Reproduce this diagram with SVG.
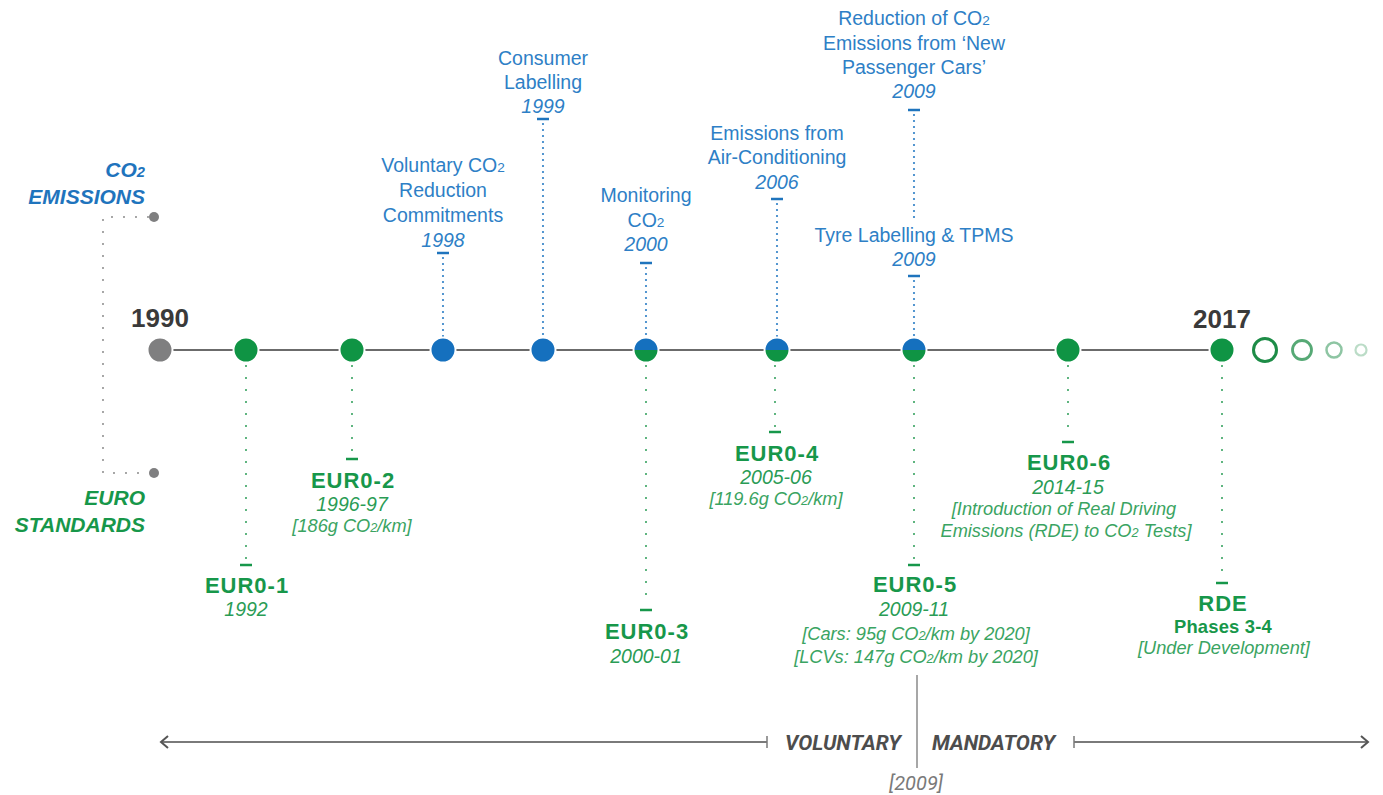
<svg xmlns="http://www.w3.org/2000/svg" width="1383" height="795" viewBox="0 0 1383 795">
<style>
.bt{font-family:"Liberation Sans",Arial,sans-serif;font-size:19.5px;fill:#2e7fc6;text-anchor:middle}
.bi{font-style:italic}
.gh{font-family:"Liberation Sans",Arial,sans-serif;font-size:22px;font-weight:700;letter-spacing:1px;fill:#17974a;text-anchor:middle}
.gi{font-family:"Liberation Sans",Arial,sans-serif;font-size:19.5px;font-style:italic;fill:#2a9c55;text-anchor:middle}
.gs{font-family:"Liberation Sans",Arial,sans-serif;font-size:18.2px;font-style:italic;fill:#3aa462;text-anchor:middle}
.yr{font-family:"Liberation Sans",Arial,sans-serif;font-size:26px;font-weight:700;fill:#3a3a3a;text-anchor:middle}
.leg{font-family:"Liberation Sans",Arial,sans-serif;font-size:21px;font-weight:700;font-style:italic;text-anchor:end}
.bd{stroke:#2e7fc6;stroke-width:2.2;stroke-dasharray:0 6;stroke-linecap:round;fill:none}
.gd{stroke:#2a9c55;stroke-width:2;stroke-dasharray:0 12;stroke-linecap:round;fill:none}
.bk{stroke:#1f74bd;stroke-width:2.5}
.gk{stroke:#17974a;stroke-width:2.5}
.ax{font-family:Roboto,"Liberation Sans",sans-serif;font-size:21px;font-weight:700;font-style:italic;fill:#4d4d4d}
.sub{font-size:0.7em}
</style>

<g id="legend">
  <text class="leg" x="145" y="177" fill="#1f74bd">CO<tspan class="sub">2</tspan></text>
  <text class="leg" x="145" y="204" fill="#1f74bd">EMISSIONS</text>
  <path d="M148 217 H103 V473 H148" stroke="#8a8a8a" stroke-width="2" stroke-dasharray="0 12" stroke-linecap="round" fill="none"/>
  <circle cx="154" cy="217" r="5" fill="#7f7f80"/>
  <circle cx="154" cy="473" r="5" fill="#7f7f80"/>
  <text class="leg" x="145" y="505" fill="#17974a">EURO</text>
  <text class="leg" x="145" y="532" fill="#17974a">STANDARDS</text>
</g>

<g id="connectors">
  <line x1="160" y1="350" x2="1222" y2="350" stroke="#6b6b6b" stroke-width="2.2"/>
  <line class="bd" x1="443" y1="258" x2="443" y2="337"/>
  <line class="bk" x1="437" y1="253" x2="449" y2="253"/>
  <line class="bd" x1="543" y1="124" x2="543" y2="337"/>
  <line class="bk" x1="537" y1="119" x2="549" y2="119"/>
  <line class="bd" x1="646" y1="268" x2="646" y2="337"/>
  <line class="bk" x1="640" y1="263" x2="652" y2="263"/>
  <line class="bd" x1="777" y1="204" x2="777" y2="337"/>
  <line class="bk" x1="771" y1="199" x2="783" y2="199"/>
  <line class="bd" x1="914" y1="115" x2="914" y2="218"/>
  <line class="bk" x1="908" y1="110" x2="920" y2="110"/>
  <line class="bd" x1="914" y1="281" x2="914" y2="337"/>
  <line class="bk" x1="908" y1="276" x2="920" y2="276"/>
  <line class="gd" x1="246" y1="366" x2="246" y2="560"/>
  <line class="gk" x1="240" y1="565" x2="252" y2="565"/>
  <line class="gd" x1="352" y1="366" x2="352" y2="454"/>
  <line class="gk" x1="346" y1="459" x2="358" y2="459"/>
  <line class="gd" x1="646" y1="366" x2="646" y2="604"/>
  <line class="gk" x1="640" y1="610" x2="652" y2="610"/>
  <line class="gd" x1="775" y1="366" x2="775" y2="427"/>
  <line class="gk" x1="769" y1="432" x2="781" y2="432"/>
  <line class="gd" x1="914" y1="366" x2="914" y2="560"/>
  <line class="gk" x1="908" y1="565" x2="920" y2="565"/>
  <line class="gd" x1="1068" y1="366" x2="1068" y2="436"/>
  <line class="gk" x1="1062" y1="442" x2="1074" y2="442"/>
  <line class="gd" x1="1222" y1="366" x2="1222" y2="578"/>
  <line class="gk" x1="1216" y1="583" x2="1228" y2="583"/>
</g>

<g id="n1990">
  <circle cx="160" cy="350" r="12.5" fill="#7f7f80" stroke="#fff" stroke-width="2"/>
  <text class="yr" x="160" y="327">1990</text>
</g>
<g id="euro1">
  <circle cx="246" cy="350" r="12.5" fill="#0f9444" stroke="#fff" stroke-width="2"/>
  <text class="gh" x="247" y="593">EUR0-1</text>
  <text class="gi" x="246" y="616">1992</text>
</g>
<g id="euro2">
  <circle cx="352" cy="350" r="12.5" fill="#0f9444" stroke="#fff" stroke-width="2"/>
  <text class="gh" x="353" y="488">EUR0-2</text>
  <text class="gi" x="352" y="511">1996-97</text>
  <text class="gs" x="352" y="532">[186g CO<tspan class="sub">2</tspan>/km]</text>
</g>
<g id="voluntary">
  <circle cx="443" cy="350" r="12.5" fill="#1570be" stroke="#fff" stroke-width="2"/>
  <text class="bt" x="443" y="172">Voluntary CO<tspan class="sub">2</tspan></text>
  <text class="bt" x="443" y="197">Reduction</text>
  <text class="bt" x="443" y="222">Commitments</text>
  <text class="bt bi" x="443" y="247">1998</text>
</g>
<g id="consumer">
  <circle cx="543" cy="350" r="12.5" fill="#1570be" stroke="#fff" stroke-width="2"/>
  <text class="bt" x="543" y="65">Consumer</text>
  <text class="bt" x="543" y="89">Labelling</text>
  <text class="bt bi" x="543" y="113">1999</text>
</g>
<g id="monitoring">
  <path d="M633.5 350 A12.5 12.5 0 0 1 658.5 350 Z" fill="#1570be"/>
  <path d="M633.5 350 A12.5 12.5 0 0 0 658.5 350 Z" fill="#0f9444"/>
  <circle cx="646" cy="350" r="12.5" fill="none" stroke="#fff" stroke-width="2"/>
  <text class="bt" x="646" y="202">Monitoring</text>
  <text class="bt" x="646" y="227">CO<tspan class="sub">2</tspan></text>
  <text class="bt bi" x="646" y="251">2000</text>
  <text class="gh" x="647" y="639">EUR0-3</text>
  <text class="gi" x="646" y="663">2000-01</text>
</g>
<g id="aircon">
  <path d="M764.5 350 A12.5 12.5 0 0 1 789.5 350 Z" fill="#1570be"/>
  <path d="M764.5 350 A12.5 12.5 0 0 0 789.5 350 Z" fill="#0f9444"/>
  <circle cx="777" cy="350" r="12.5" fill="none" stroke="#fff" stroke-width="2"/>
  <text class="bt" x="777" y="140">Emissions from</text>
  <text class="bt" x="777" y="164">Air-Conditioning</text>
  <text class="bt bi" x="777" y="189">2006</text>
  <text class="gh" x="777" y="461">EUR0-4</text>
  <text class="gi" x="776" y="484">2005-06</text>
  <text class="gs" x="776" y="505">[119.6g CO<tspan class="sub">2</tspan>/km]</text>
</g>
<g id="tyre">
  <path d="M901.5 350 A12.5 12.5 0 0 1 926.5 350 Z" fill="#1570be"/>
  <path d="M901.5 350 A12.5 12.5 0 0 0 926.5 350 Z" fill="#0f9444"/>
  <circle cx="914" cy="350" r="12.5" fill="none" stroke="#fff" stroke-width="2"/>
  <text class="bt" x="914" y="25">Reduction of CO<tspan class="sub">2</tspan></text>
  <text class="bt" x="914" y="50">Emissions from ‘New</text>
  <text class="bt" x="914" y="74">Passenger Cars’</text>
  <text class="bt bi" x="914" y="98">2009</text>
  <text class="bt" x="914" y="242">Tyre Labelling &amp; TPMS</text>
  <text class="bt bi" x="914" y="266">2009</text>
  <text class="gh" x="915" y="592">EUR0-5</text>
  <text class="gi" x="914" y="616">2009-11</text>
  <text class="gs" x="916" y="640">[Cars: 95g CO<tspan class="sub">2</tspan>/km by 2020]</text>
  <text class="gs" x="916" y="663">[LCVs: 147g CO<tspan class="sub">2</tspan>/km by 2020]</text>
</g>
<g id="euro6">
  <circle cx="1068" cy="350" r="12.5" fill="#0f9444" stroke="#fff" stroke-width="2"/>
  <text class="gh" x="1069" y="470">EUR0-6</text>
  <text class="gi" x="1068" y="494">2014-15</text>
  <text class="gs" x="1064" y="515">[Introduction of Real Driving</text>
  <text class="gs" x="1066" y="537">Emissions (RDE) to CO<tspan class="sub">2</tspan> Tests]</text>
</g>
<g id="n2017">
  <circle cx="1222" cy="350" r="12.5" fill="#0f9444" stroke="#fff" stroke-width="2"/>
  <text class="yr" x="1222" y="328">2017</text>
  <text class="gh" x="1223" y="611">RDE</text>
  <text class="gh" x="1223" y="633" style="font-size:18.4px;letter-spacing:0.2px">Phases 3-4</text>
  <text class="gs" x="1224" y="654">[Under Development]</text>
</g>
<g id="future">
  <circle cx="1265" cy="350" r="11.5" fill="none" stroke="#1d8c47" stroke-width="3"/>
  <circle cx="1302" cy="350" r="9.5" fill="none" stroke="#1d8c47" stroke-opacity="0.75" stroke-width="2.8"/>
  <circle cx="1334" cy="350" r="7.5" fill="none" stroke="#1d8c47" stroke-opacity="0.5" stroke-width="2.5"/>
  <circle cx="1361" cy="350" r="5.5" fill="none" stroke="#1d8c47" stroke-opacity="0.3" stroke-width="2.2"/>
</g>

<g id="axis">
  <line x1="161" y1="742" x2="767" y2="742" stroke="#7a7a7a" stroke-width="2"/>
  <polyline points="168,736 161,742 168,748" fill="none" stroke="#555" stroke-width="2"/>
  <line x1="767" y1="736" x2="767" y2="748" stroke="#7a7a7a" stroke-width="1.5"/>
  <text class="ax" x="785" y="750">VOLUNTARY</text>
  <line x1="917" y1="675" x2="917" y2="768" stroke="#8a8a8a" stroke-width="1.5"/>
  <text class="ax" x="932" y="750">MANDATORY</text>
  <line x1="1074" y1="736" x2="1074" y2="748" stroke="#7a7a7a" stroke-width="1.5"/>
  <line x1="1074" y1="742" x2="1368" y2="742" stroke="#7a7a7a" stroke-width="2"/>
  <polyline points="1361,736 1368,742 1361,748" fill="none" stroke="#555" stroke-width="2"/>
  <text x="916" y="790" font-family="Roboto,'Liberation Sans',sans-serif" font-size="20" font-style="italic" fill="#7a7a7a" text-anchor="middle">[2009]</text>
</g>
</svg>
